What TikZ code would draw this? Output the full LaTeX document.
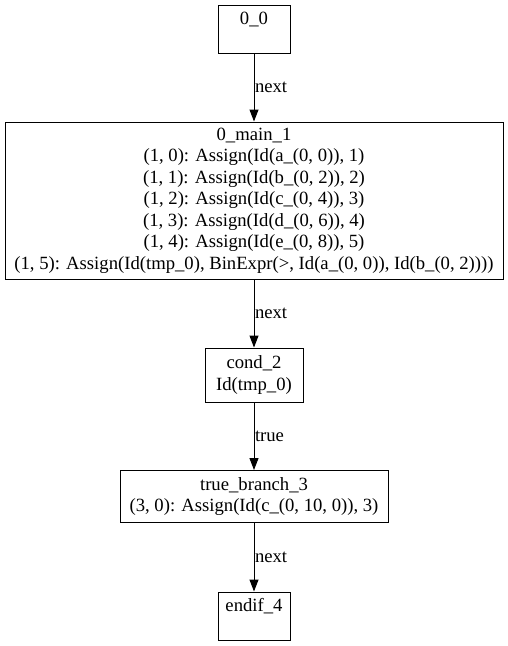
\documentclass[tikz,border=0pt]{standalone}
\usepackage{fontspec}
\setmainfont{Liberation Serif}
\usetikzlibrary{arrows.meta}
\usetikzlibrary{positioning}
\tikzset{
   every path/.style={>={Triangle[length=12pt,width=9pt]}},
   every node/.style={font=\fontsize{18.67}{21.5}\selectfont},
   block/.style={draw,line width=1pt,align=center,inner sep=0pt},
   nxt/.style={->,line width=1pt},
   lbl/.style={anchor=west,inner sep=0.5pt},
}
\begin{document}
\begin{tikzpicture}[x=1pt,y=1pt]
  \useasboundingbox (0,0) rectangle (508,-646);

  \node[block,minimum width=72,minimum height=48]  (n00)    at (254,-29)    {0\_0\\ \mbox{}};
  \node[block,minimum width=498,minimum height=157] (main1) at (254,-200.5)
    {0\_main\_1\\
     (1, 0): Assign(Id(a\_(0, 0)), 1)\\
     (1, 1): Assign(Id(b\_(0, 2)), 2)\\
     (1, 2): Assign(Id(c\_(0, 4)), 3)\\
     (1, 3): Assign(Id(d\_(0, 6)), 4)\\
     (1, 4): Assign(Id(e\_(0, 8)), 5)\\
     (1, 5): Assign(Id(tmp\_0), BinExpr(>, Id(a\_(0, 0)), Id(b\_(0, 2))))};
  \node[block,minimum width=98,minimum height=54]  (cond2)  at (254,-375)   {cond\_2\\ Id(tmp\_0)};
  \node[block,minimum width=268,minimum height=52] (true3)  at (254,-496.5) {true\_branch\_3\\ (3, 0): Assign(Id(c\_(0, 10, 0)), 3)};
  \node[block,minimum width=72,minimum height=48]  (endif4) at (254,-616)   {endif\_4\\ \mbox{}};

  \draw[nxt] (n00)   -- node[lbl] {next} (main1);
  \draw[nxt] (main1) -- node[lbl] {next} (cond2);
  \draw[nxt] (cond2) -- node[lbl] {true} (true3);
  \draw[nxt] (true3) -- node[lbl] {next} (endif4);
\end{tikzpicture}
\end{document}
